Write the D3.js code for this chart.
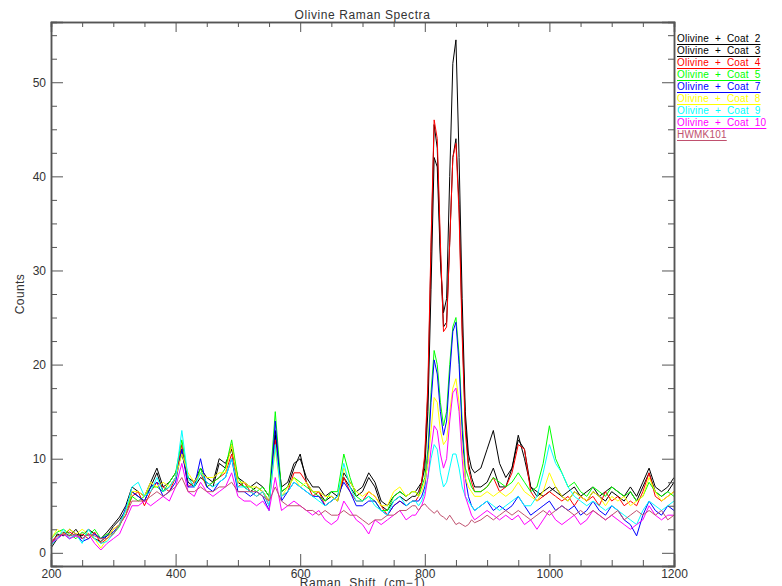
<!DOCTYPE html>
<html>
<head>
<meta charset="utf-8">
<script src="https://cdn.jsdelivr.net/npm/d3@7"></script>
<style>
  body { margin: 0; background: #fff; }
  text { font-family: "Liberation Sans", Arial, sans-serif; fill: #333; }
</style>
</head>
<body>
<svg id="chart" width="782" height="586"></svg>
<script>
// Raman shift grid (cm-1), finer through the olivine doublet
const shift = [200,210,220,230,240,250,260,270,280,290,
  300,310,320,330,340,350,360,370,380,390,
  400,410,420,430,440,450,460,470,480,490,
  500,510,520,530,540,550,560,570,580,590,
  600,610,620,630,640,650,660,670,680,690,
  700,710,720,730,740,750,760,770,780,
  785,790,795,800,805,810,815,820,825,830,835,840,845,850,855,860,865,870,875,880,
  890,900,910,920,930,940,950,960,970,980,990,
  1000,1010,1020,1030,1040,1050,1060,1070,1080,1090,
  1100,1110,1120,1130,1140,1150,1160,1170,1180,1190,1200];

const names = ["Olivine + Coat 2", "Olivine + Coat 3", "Olivine + Coat 4", "Olivine + Coat 5",
  "Olivine + Coat 7", "Olivine + Coat 8", "Olivine + Coat 9", "Olivine + Coat 10", "HWMK101"];
const colors = ["#000000", "#000000", "#ff0000", "#00ff00", "#0000ff", "#ffff00", "#00ffff", "#ff00ff", "#c0506e"];

const coat2 = [0.5,1.5,2.2,1.8,2.5,1.5,2.0,1.5,1.2,1.8,
  2.8,3.5,4.5,6.5,6.0,5.5,7.0,8.5,6.5,7.0,
  8.0,11.0,7.5,7.0,8.0,7.5,7.0,9.5,9.0,11.5,
  7.5,7.0,6.5,7.0,6.5,5.5,13.0,6.5,7.0,9.0,
  10.5,7.5,6.5,6.5,5.5,6.0,5.5,8.0,7.0,6.0,
  6.5,8.0,7.0,5.0,4.5,5.5,6.0,5.5,6.0,
  6,6.5,7.5,10,17,32,45.5,43,32,24,24.5,33,42,44,37,24,14,9.5,8,7,
  7,7.5,9,7,7,9,12,11,7,6,6.5,
  7,6.5,6,5.5,6.5,6,5.5,6.5,6,5.5,
  6.5,6,5.5,6.5,5.5,7,8.5,6.5,6,6.5,7.5];

const coat3 = [0.8,2.0,1.8,2.5,2.0,1.8,2.5,2.0,1.5,2.2,
  3.0,3.8,5.0,7.0,6.5,6.0,7.5,9.0,7.0,7.5,
  8.5,10.5,8.0,7.5,9.0,8.0,7.5,10.0,9.5,11.0,
  8.0,7.5,7.0,7.5,7.0,6.0,12.5,7.0,7.5,9.5,
  10.0,8.0,7.0,7.0,6.0,6.5,6.0,8.5,7.5,6.5,
  7.0,8.5,7.5,5.5,5.0,6.0,6.5,6.0,6.5,
  6.5,7,7.5,9,15,28,42,41,31,25.5,27,40,52,54.5,42,27,15,10.5,9,8.5,
  9,11,13,9.5,8,9,12.5,10,7,6.5,6,
  6.5,7,6,6.5,7,6,6.5,7,6,6.5,
  7,6.5,6,7,6,7.5,9,7,6.5,7,8];

const coat4 = [1.2,1.8,2.0,2.2,1.8,2.0,1.5,2.2,1.0,1.5,
  2.5,3.0,4.0,6.0,6.5,5.0,6.5,7.5,7.0,6.5,
  8.0,11.5,7.0,7.5,8.5,7.0,7.5,8.0,8.5,10.5,
  7.0,7.5,6.5,6.0,6.5,5.0,12.0,6.0,6.5,8.5,
  8.5,7.5,6.0,6.5,5.0,5.5,6.0,8.0,6.5,5.5,
  5.5,6.5,6.0,5.0,4.0,5.0,5.5,5.0,5.5,
  5.5,6,7.5,10.5,18,33,46,44,33,23.5,24,33,42,43.5,36,23,13,9,7.5,6.5,
  6.5,7,8,6.5,7,8.5,11.5,11,6.5,5.5,6,
  6.5,6,5.5,6,5,6,5.5,6,5,6.5,
  5.5,6,5,5.5,5,6.5,8.5,6,5.5,6,6.5];

const coat5 = [1.5,2.2,2.5,2.0,1.5,2.2,1.8,2.5,1.5,2.0,
  2.0,2.8,4.5,6.0,5.5,6.0,7.0,7.0,6.5,7.5,
  8.5,12.0,8.0,7.0,9.0,7.0,7.5,8.0,9.0,12.0,
  8.0,7.0,7.0,6.5,7.0,6.0,15.0,6.5,7.0,8.0,
  7.5,7.0,6.5,6.0,5.5,6.5,6.5,10.5,8.0,6.0,
  5.5,6.0,5.5,4.5,4.5,6.0,6.5,6.0,6.5,
  6.5,6,7,8,11,17,21.5,20,16,13.5,15,20,24,25,21,14,9,8,7,6.5,
  6.5,7,8,7.5,7,7.5,8.5,7.5,6.5,7,9.5,
  13.5,10,8.5,7,7.5,6.5,6,7,6.5,6,
  7,6.5,6,6.5,5.5,6,7.5,6.5,6,6.5,6];

const coat7 = [1.0,1.5,2.0,1.5,2.0,1.2,1.5,2.0,1.5,1.8,
  2.2,3.0,4.8,6.5,6.0,5.5,7.0,7.5,6.0,6.5,
  7.5,11.0,7.0,7.0,10.0,7.0,6.5,7.5,8.0,10.0,
  6.5,6.5,6.0,6.5,6.0,4.5,14.0,5.5,6.5,7.5,
  7.0,6.5,6.0,6.0,5.0,5.5,6.0,7.5,6.5,5.0,
  5.0,5.5,5.5,4.5,4.0,5.0,5.5,5.0,5.5,
  5.5,5.5,6,7,10,16,20.5,19,15,12.5,14,19,23.5,24.5,20,13,8,6,5,4.5,
  5,5.5,4.5,5,4.5,5,6,5,4,4.5,5,
  5.5,4.5,5,4.5,5,4,4.5,5.5,4.5,4,
  5,4.5,3.5,3,1.8,4,5.5,4.5,4,5,4.5];

const coat8 = [1.5,2.5,2.0,2.5,2.0,2.5,2.0,1.5,0.5,1.5,
  2.5,3.0,4.5,6.5,6.5,6.0,7.5,7.0,7.5,7.0,
  8.0,10.5,8.5,7.5,8.5,8.0,8.0,8.5,8.5,11.5,
  7.5,7.5,7.0,7.0,6.5,5.5,11.0,6.0,7.0,8.0,
  7.0,7.5,6.5,6.5,6.0,6.0,5.5,9.0,7.5,6.5,
  6.0,6.5,6.0,5.0,5.0,6.5,7.0,6.0,6.5,
  6.5,6,6.5,7.5,9.5,13,16.5,16,13,11.5,12,15,17.5,18.5,16,11,8,7,6.5,6,
  6,6.5,6,6.5,6,6.5,7.5,6.5,6,5.5,6.5,
  8.5,7,6,5.5,6.5,6,5.5,6.5,6,5,
  6,5.5,6,5,5.5,6,8,6.5,5.5,6,6.5];

const coat9 = [0.8,1.5,2.5,1.5,2.0,1.0,2.5,1.5,1.0,1.2,
  2.0,3.0,4.5,7.0,7.5,6.0,6.5,8.0,6.5,7.0,
  8.0,13.0,8.0,7.0,8.5,7.5,7.0,7.5,8.0,10.0,
  7.0,7.0,6.5,6.0,6.5,5.0,11.5,6.0,6.5,7.5,
  7.0,6.5,6.0,5.5,5.0,5.5,6.0,9.5,7.0,5.5,
  5.5,6.0,5.0,4.5,4.0,5.5,6.0,5.0,5.5,
  5.5,5,5.5,6.5,8,10,11.5,11,8.5,7,7.5,9,10.5,10.5,9,7,6,5.5,5,4.5,
  5,5.5,5,4.5,5,5.5,6,5,5,6,8.5,
  11.5,9.5,8.5,7,6,5.5,5,5.5,5,4.5,
  5,4.5,4,3.5,3,4.5,5.5,5,4.5,5,5.5];

const coat10 = [1.0,1.5,2.0,1.5,1.8,1.5,2.0,1.0,0.3,1.0,
  1.5,2.0,3.5,5.0,5.0,5.5,5.0,5.5,6.0,5.5,
  7.0,9.5,6.5,6.0,7.5,6.5,6.0,6.5,7.0,8.5,
  6.0,5.5,5.5,5.0,5.5,4.5,8.0,4.5,5.0,5.5,
  5.0,4.5,4.0,4.5,3.5,3.0,3.5,5.5,4.5,3.5,
  3.0,2.0,3.5,3.0,3.5,4.0,4.5,3.5,4.0,
  4,4.5,5,6,8,11,13.5,13,10.5,9,10,14,17,17.5,15,10,6,5,4,3.5,
  4,4.5,4,3.5,4,3.5,4,3,3.5,2.5,3.5,
  4.5,3.5,3,3.5,4,3,3.5,4.5,4,3.5,
  4,3.5,3,2.5,3,3.5,5,4,3.5,4,4];

const hwmk101 = [1.0,1.8,2.0,1.8,2.0,1.5,2.0,1.8,1.5,1.5,
  2.0,3.0,4.0,5.5,5.5,5.5,6.0,6.5,6.0,6.5,
  7.0,8.0,6.5,6.5,7.0,6.5,6.5,7.0,7.0,7.5,
  6.5,6.5,6.5,6.5,6.0,5.5,7.0,5.5,5.0,5.0,
  5.0,4.5,4.5,4.0,4.5,4.0,4.0,4.5,4.0,4.0,
  3.5,3.0,3.5,3.5,4.0,4.0,4.5,4.5,5.0,
  5,4.5,5,5.2,4.8,4.5,4.2,4.5,4,3.8,3.5,4,3.5,3,3.2,3,2.8,3,3.5,3.2,
  3.5,4,3.5,4,4.5,4,4.5,4,3.5,4,4.5,
  4,4.5,5,4.5,4,4.5,4,4.5,4,3.5,
  4,4.5,3.5,4,4.5,4,4.5,4,4.5,3.5,4];

const xTicks = [200, 400, 600, 800, 1000, 1200];
const yTicks = [0, 10, 20, 30, 40, 50];

{
  const plot = {left: 51, right: 674, top: 22, bottom: 566};

  const x = d3.scaleLinear().domain([200, 1200]).range([plot.left, plot.right]);
  const y = d3.scaleLinear().domain([-1.4, 56.4]).range([plot.bottom, plot.top]);

  const svg = d3.select("#chart");
  const series = [coat2, coat3, coat4, coat5, coat7, coat8, coat9, coat10, hwmk101];

  const line = d3.line()
    .x((d, i) => x(shift[i]))
    .y(d => y(d));

  svg.append("g")
    .selectAll("path")
    .data(series)
    .enter()
      .append("path")
      .attr("d", line)
      .attr("fill", "none")
      .attr("stroke", (d, i) => colors[i])
      .attr("stroke-width", 1);

  // axes on all four sides, ticks pointing inward
  const xMinor = d3.range(200, 1201, 50).filter(v => v % 200 !== 0);
  const yMinor = d3.range(0, 56, 2.5).filter(v => v % 10 !== 0);
  const axisColor = "#555";

  const bottom = svg.append("g").attr("transform", `translate(0,${plot.bottom})`)
    .call(d3.axisBottom(x).tickValues(xTicks).tickSize(-12).tickFormat(d3.format("d")));
  bottom.append("g").call(d3.axisBottom(x).tickValues(xMinor).tickSize(-6).tickFormat(""));

  const top = svg.append("g").attr("transform", `translate(0,${plot.top})`)
    .call(d3.axisTop(x).tickValues(xTicks).tickSize(-10).tickFormat(""));
  top.append("g").call(d3.axisTop(x).tickValues(xMinor).tickSize(-5).tickFormat(""));

  const left = svg.append("g").attr("transform", `translate(${plot.left},0)`)
    .call(d3.axisLeft(y).tickValues(yTicks).tickSize(-12).tickPadding(5).tickFormat(d3.format("d")));
  left.append("g").call(d3.axisLeft(y).tickValues(yMinor).tickSize(-6).tickFormat(""));

  const right = svg.append("g").attr("transform", `translate(${plot.right},0)`)
    .call(d3.axisRight(y).tickValues(yTicks).tickSize(-12).tickFormat(""));
  right.append("g").call(d3.axisRight(y).tickValues(yMinor).tickSize(-6).tickFormat(""));

  svg.selectAll(".domain").attr("stroke", axisColor).attr("stroke-width", 1.5);
  svg.selectAll(".tick line").attr("stroke", axisColor);
  svg.selectAll(".tick text").attr("font-size", 12).attr("fill", "#333")
    .attr("font-family", "Liberation Sans, Arial, sans-serif");
  bottom.selectAll(".tick text").attr("y", 12).attr("dy", 0);

  svg.append("text")
    .attr("x", (plot.left + plot.right) / 2).attr("y", 19)
    .attr("text-anchor", "middle").attr("font-size", 12).attr("letter-spacing", 0.6)
    .text("Olivine Raman Spectra");

  svg.append("text")
    .attr("x", (plot.left + plot.right) / 2).attr("y", 587)
    .attr("text-anchor", "middle").attr("font-size", 12).attr("letter-spacing", 0.6)
    .attr("xml:space", "preserve")
    .text("Raman  Shift  (cm\u22121)");

  svg.append("text")
    .attr("transform", `translate(24,${(plot.top + plot.bottom) / 2}) rotate(-90)`)
    .attr("text-anchor", "middle").attr("font-size", 12).attr("letter-spacing", 0.4)
    .text("Counts");

  const legend = svg.append("g")
    .selectAll("g")
    .data(names)
    .enter()
      .append("g")
      .attr("transform", (d, i) => `translate(677,${42 + i * 12})`);

  legend.append("text")
    .attr("font-size", 10)
    .attr("letter-spacing", 0.2)
    .attr("xml:space", "preserve")
    .style("fill", (d, i) => colors[i])
    .text(d => d.replace(/ \+ /g, "  +  ").replace(/Coat /, "Coat  "));

  legend.each(function () {
    const g = d3.select(this);
    const w = g.select("text").node().getComputedTextLength();
    g.append("line")
      .attr("x1", 0).attr("x2", w)
      .attr("y1", 2.5).attr("y2", 2.5)
      .attr("stroke", g.select("text").style("fill"))
      .attr("stroke-width", 1);
  });
}
</script>
</body>
</html>
